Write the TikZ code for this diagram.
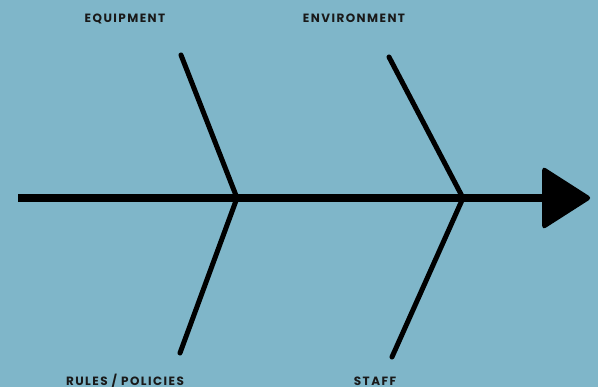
\documentclass[tikz,border=0pt]{standalone}
\usepackage{fontspec}
\newfontfamily\labelfont[LetterSpace=12]{Poppins}
\usepackage{tikz}
\usetikzlibrary{shapes.geometric}

\definecolor{fishbg}{RGB}{127,182,201}

\begin{document}
\begin{tikzpicture}[
  x=1pt, y=-1pt,
  cat/.style={font=\labelfont\bfseries\fontsize{12}{14}\selectfont,
    text=black!90, anchor=base, inner sep=0pt},
  spine/.style={line width=8pt, black},
  bone/.style={line width=5pt, black, line cap=round},
  head/.style={isosceles triangle, isosceles triangle stretches,
    shape border rotate=0, fill=black, rounded corners=4pt,
    minimum width=64pt, minimum height=50pt, inner sep=0pt},
]
  % background
  \fill[fishbg] (0,0) rectangle (598,387);
  \useasboundingbox (0,0) rectangle (598,387);
  \clip (0,0) rectangle (598,387);

  % spine + head
  \coordinate (tail) at (18,198);
  \node[head, anchor=west] (arrowhead) at (542,198) {};
  \coordinate (j1) at (237,198);
  \coordinate (j2) at (463,198);
  \draw[spine] (tail) -- (arrowhead.west);

  % bones
  \coordinate (b1) at (181,55);
  \coordinate (b2) at (180,353);
  \coordinate (b3) at (389,57);
  \coordinate (b4) at (392,357);
  \draw[bone] (b1) -- (j1) -- (b2);
  \draw[bone] (b3) -- (j2) -- (b4);

  % labels
  \node[cat] (equip) at (125,23) {EQUIPMENT};
  \node[cat] (envir) at (354,23) {ENVIRONMENT};
  \node[cat] (rules) at (125,386) {RULES / POLICIES};
  \node[cat] (staff) at (375,386) {STAFF};
\end{tikzpicture}
\end{document}
